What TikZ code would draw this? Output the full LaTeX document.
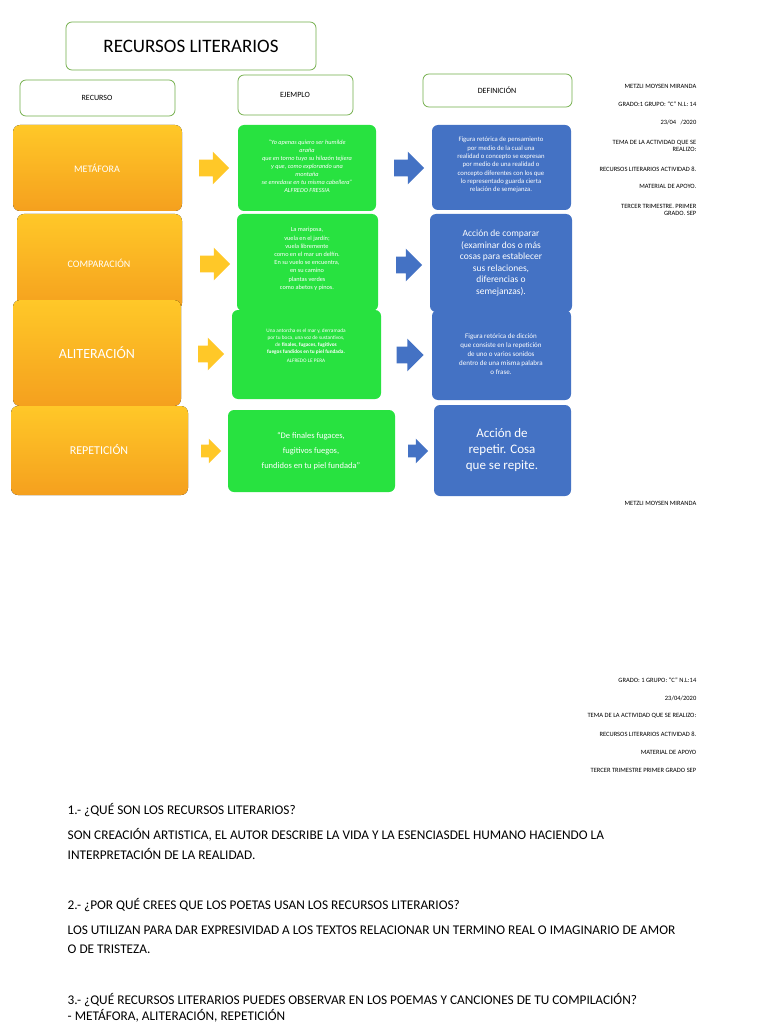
\documentclass[tikz,border=0pt]{standalone}
\usepackage{fontspec}
\setmainfont{Carlito}
\usetikzlibrary{shapes.arrows}
\definecolor{hdgreen}{RGB}{112,173,71}
\definecolor{orgtop}{RGB}{255,200,40}
\definecolor{orgbot}{RGB}{245,160,30}
\definecolor{grn}{RGB}{40,226,64}
\definecolor{blu}{RGB}{68,114,196}
\tikzset{every picture/.style={line width=0.75pt},
  hdbox/.style={draw=hdgreen,rounded corners=6pt,fill=white},
  recbox/.style={rounded corners=7pt,top color=orgtop,bottom color=orgbot,text=white,font=\fontsize{14}{16}\selectfont},
  ejbox/.style={rounded corners=6pt,fill=grn,text=white,align=center},
  defbox/.style={rounded corners=6pt,fill=blu,text=white,align=center},
  blockarrow/.style={single arrow,draw=none,minimum height=30pt,inner xsep=0pt,inner ysep=8pt,single arrow head extend=8pt},
  orarrow/.style={blockarrow,fill=orgtop},
  blarrow/.style={blockarrow,fill=blu},
  side/.style={anchor=east,font=\fontsize{6.5}{7.5}\selectfont,align=right},
  qtext/.style={anchor=west,font=\fontsize{13.3}{15}\selectfont}}
\begin{document}
\begin{tikzpicture}[x=1pt,y=-1pt]
	\useasboundingbox[fill=white] (0,0) rectangle (768,1024);
	
	% header boxes
	\draw[hdbox] (66,22) rectangle (316,70);
	\node (title) at (191,46) {\fontsize{19}{22}\selectfont RECURSOS LITERARIOS};
	\draw[hdbox] (20,80) rectangle (175,116);
	\node (hrec) at (97,98) {\fontsize{8}{9}\selectfont RECURSO};
	\draw[hdbox] (238,75) rectangle (353,115);
	\node (hej) at (295,95) {\fontsize{8}{9}\selectfont EJEMPLO};
	\draw[hdbox] (423,74) rectangle (572,107);
	\node (hdef) at (497,90) {\fontsize{8}{9}\selectfont DEFINICIÓN};
	
	% recursos
	\fill[recbox] (13,125) rectangle (182,211);
	\node[text=white] (met) at (97,168) {\fontsize{10}{12}\selectfont METÁFORA};
	\fill[recbox] (17,214) rectangle (182,310);
	\node[text=white] (comp) at (99,263) {\fontsize{10}{12}\selectfont COMPARACIÓN};
	\fill[recbox] (13,300) rectangle (181,406);
	\node[text=white] (alit) at (97,353) {\fontsize{14}{16}\selectfont ALITERACIÓN};
	\fill[recbox] (11,406) rectangle (188,495);
	\node[text=white] (rep) at (99,450) {\fontsize{12}{14}\selectfont REPETICIÓN};
	
	% ejemplos
	\fill[ejbox] (238,125) rectangle (376,211);
	\node[text=white,align=center,font=\fontsize{6.3}{8}\selectfont\itshape] (ej1) at (307,166) {``Yo apenas quiero ser humilde\\araña\\que en torno tuyo su hilazón tejiera\\y que, como explorando una\\montaña\\se enredase en tu misma cabellera''\\ALFREDO FRESSIA};
	\fill[ejbox] (237,214) rectangle (378,311);
	\node[text=white,align=center,font=\fontsize{6.3}{8.2}\selectfont] (ej2) at (307,259) {La mariposa,\\vuela en el jardín;\\vuela libremente\\como en el mar un delfín.\\En su vuelo se encuentra,\\en su camino\\plantas verdes\\como abetos y pinos.};
	\fill[ejbox] (232,310) rectangle (381,399);
	\node[text=white,align=center,font=\fontsize{5.3}{7}\selectfont] (ej3) at (306,346) {Una antorcha es el mar y, derramada\\por tu boca, una voz de sustantivos,\\de \textbf{finales, fugaces, fugitivos}\\\textbf{fuegos fundidos en tu piel fundada.}\\[2pt]ALFREDO LE PERA};
	\fill[ejbox] (228,410) rectangle (395,492);
	\node[text=white,align=center,font=\fontsize{8.5}{15}\selectfont] (ej4) at (311,451) {``De finales fugaces,\\fugitivos fuegos,\\fundidos en tu piel fundada''};
	
	% definiciones
	\fill[defbox] (432,125) rectangle (571,210);
	\node[text=white,align=center,font=\fontsize{6.7}{8.3}\selectfont] (def1) at (501,165) {Figura retórica de pensamiento\\por medio de la cual una\\realidad o concepto se expresan\\por medio de una realidad o\\concepto diferentes con los que\\lo representado guarda cierta\\relación de semejanza.};
	\fill[defbox] (430,214) rectangle (572,312);
	\node[text=white,align=center,font=\fontsize{9.5}{11.5}\selectfont] (def2) at (501,263) {Acción de comparar\\(examinar dos o más\\cosas para establecer\\sus relaciones,\\diferencias o\\semejanzas).};
	\fill[defbox] (432,310) rectangle (571,400);
	\node[text=white,align=center,font=\fontsize{7}{9}\selectfont] (def3) at (501,354) {Figura retórica de dicción\\que consiste en la repetición\\de uno o varios sonidos\\dentro de una misma palabra\\o frase.};
	\fill[defbox] (434,405) rectangle (571,496);
	\node[text=white,align=center,font=\fontsize{13}{16}\selectfont] (def4) at (502,450) {Acción de\\repetir. Cosa\\que se repite.};
	
	% flechas
	\node[orarrow] (oa1) at (210,168) {};
	\node[orarrow] (oa2) at (211,264) {};
	\node[orarrow,minimum height=26pt] (oa3) at (207,354) {};
	\node[orarrow,minimum height=20pt,inner ysep=6pt,single arrow head extend=6pt] (oa4) at (208,451) {};
	\node[blarrow] (ba1) at (405,168) {};
	\node[blarrow,minimum height=26pt] (ba2) at (405,265) {};
	\node[blarrow,minimum height=27pt] (ba3) at (406,355) {};
	\node[blarrow,minimum height=20pt,inner ysep=6pt,single arrow head extend=6pt] (ba4) at (415,451) {};
	
	% datos
	\node[side] (s1) at (700,86) {METZLI MOYSEN MIRANDA};
	\node[side] (s2) at (700,104) {GRADO:1 GRUPO: ``C'' N.L: 14};
	\node[side] (s3) at (700,122) {23/04 \ \ /2020};
	\node[side] (s4) at (700,146) {TEMA DE LA ACTIVIDAD QUE SE\\REALIZO:};
	\node[side] (s5) at (700,169) {RECURSOS LITERARIOS ACTIVIDAD 8.};
	\node[side] (s6) at (700,186) {MATERIAL DE APOYO.};
	\node[side] (s7) at (700,210) {TERCER TRIMESTRE. PRIMER\\GRADO. SEP};
	\node[side] (s8) at (700,503) {METZLI MOYSEN MIRANDA};
	\node[side] (t1) at (700,680) {GRADO: 1 GRUPO: ``C'' N.L:14};
	\node[side] (t2) at (700,698) {23/04/2020};
	\node[side] (t3) at (700,716) {TEMA DE LA ACTIVIDAD QUE SE REALIZO:};
	\node[side] (t4) at (700,734) {RECURSOS LITERARIOS ACTIVIDAD 8.};
	\node[side] (t5) at (700,752) {MATERIAL DE APOYO};
	\node[side] (t6) at (700,770) {TERCER TRIMESTRE PRIMER GRADO SEP};
	
	% preguntas
	\node[qtext] (q1) at (64,810) {1.- ¿QUÉ SON LOS RECURSOS LITERARIOS?};
	\node[qtext] (r1a) at (64,835) {SON CREACIÓN ARTISTICA, EL AUTOR DESCRIBE LA VIDA Y LA ESENCIASDEL HUMANO HACIENDO LA};
	\node[qtext] (r1b) at (64,854) {INTERPRETACIÓN DE LA REALIDAD.};
	\node[qtext] (q2) at (64,905) {2.- ¿POR QUÉ CREES QUE LOS POETAS USAN LOS RECURSOS LITERARIOS?};
	\node[qtext] (r2a) at (64,930) {LOS UTILIZAN PARA DAR EXPRESIVIDAD A LOS TEXTOS RELACIONAR UN TERMINO REAL O IMAGINARIO DE AMOR};
	\node[qtext] (r2b) at (64,949) {O DE TRISTEZA.};
	\node[qtext] (q3) at (64,1000) {3.- ¿QUÉ RECURSOS LITERARIOS PUEDES OBSERVAR EN LOS POEMAS Y CANCIONES DE TU COMPILACIÓN?};
	\node[qtext] (r3) at (64,1016) {- METÁFORA, ALITERACIÓN, REPETICIÓN};
\end{tikzpicture}
\end{document}
